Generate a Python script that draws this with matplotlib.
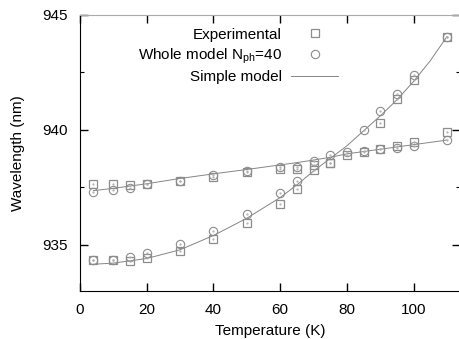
import matplotlib
matplotlib.use('Agg')
import matplotlib.pyplot as plt
from matplotlib.ticker import MultipleLocator

plt.rcParams['font.family'] = ['Liberation Sans', 'DejaVu Sans']
plt.rcParams['font.size'] = 11
plt.rcParams['mathtext.fontset'] = 'custom'
plt.rcParams['mathtext.rm'] = 'Liberation Sans'

# experimental points (squares)
t_exp_flat = [4, 10, 15, 20, 30, 40, 50, 60, 65, 70, 75, 80, 85, 90, 95, 100, 110]
exp_flat = [937.64, 937.64, 937.60, 937.65, 937.75, 937.94, 938.17, 938.27, 938.31,
            938.47, 938.55, 938.92, 939.04, 939.18, 939.30, 939.47, 939.89]
t_exp_steep = [4, 10, 15, 20, 30, 40, 50, 60, 65, 70, 75, 90, 95, 100, 110]
exp_steep = [934.33, 934.33, 934.27, 934.42, 934.72, 935.23, 935.94, 936.77, 937.42,
             938.26, 938.55, 940.31, 941.34, 942.14, 944.05]

# whole model N_ph=40 (circles)
t_whole_flat = [4, 10, 15, 20, 30, 40, 50, 60, 65, 70, 80, 85, 90, 95, 100, 110]
whole_flat = [937.27, 937.36, 937.46, 937.62, 937.78, 938.02, 938.22, 938.40, 938.40,
              938.65, 939.02, 939.08, 939.17, 939.22, 939.30, 939.55]
t_whole_steep = [4, 10, 15, 20, 30, 40, 50, 60, 65, 75, 85, 90, 95, 100, 110]
whole_steep = [934.35, 934.35, 934.45, 934.62, 935.03, 935.60, 936.33, 937.24, 937.79,
               938.88, 939.99, 940.81, 941.56, 942.36, 944.05]

# simple model curves
t_model = [4, 10, 20, 30, 40, 50, 60, 65, 70, 75, 80, 85, 90, 95, 100, 105, 110]
simple_steep = [934.15, 934.20, 934.40, 934.78, 935.40, 936.15, 937.05, 937.60, 938.20,
                938.75, 939.30, 939.95, 940.60, 941.30, 942.10, 943.00, 944.05]
simple_flat = [937.35, 937.45, 937.65, 937.88, 938.08, 938.27, 938.47, 938.57, 938.68,
               938.80, 938.95, 939.05, 939.15, 939.25, 939.35, 939.45, 939.55]

gray = '#8c8c8c'

fig = plt.figure(figsize=(4.6, 3.39), dpi=100)
ax = fig.add_axes([80 / 460, 48.3 / 339, 380 / 460, 276 / 339])

ax.plot(t_model, simple_steep, '-', color='#858585', lw=0.7, label='Simple model')
ax.plot(t_model, simple_flat, '-', color='#858585', lw=0.7)

ax.plot(t_exp_flat, exp_flat, 's', mfc='none', mec=gray, mew=0.9, ms=5.5,
        label='Experimental')
ax.plot(t_exp_steep, exp_steep, 's', mfc='none', mec=gray, mew=0.9, ms=5.5)
ax.plot(t_whole_flat, whole_flat, 'o', mfc='none', mec=gray, mew=0.8, ms=6,
        label='Whole model N$_{\\rm ph}$=40')
ax.plot(t_whole_steep, whole_steep, 'o', mfc='none', mec=gray, mew=0.8, ms=6)
# small centre dots like the original
for tx, vy in [(t_exp_flat, exp_flat), (t_exp_steep, exp_steep),
               (t_whole_flat, whole_flat), (t_whole_steep, whole_steep)]:
    ax.plot(tx, vy, '.', color='#b0b0b0', ms=1.2)

ax.set_xlim(0, 113.9)
ax.set_ylim(933, 945)
ax.xaxis.set_major_locator(MultipleLocator(20))
ax.yaxis.set_major_locator(MultipleLocator(5))
ax.yaxis.set_minor_locator(MultipleLocator(2.5))
ax.tick_params(axis='both', which='major', direction='in', length=6, width=1,
               top=True, right=True, pad=9, labelsize=11)
ax.tick_params(axis='y', which='minor', direction='in', length=3, width=0.8,
               right=True, left=True)
ax.spines['top'].set_color('#aaaaaa')
ax.spines['top'].set_linewidth(0.8)
ax.spines['right'].set_visible(False)

ax.set_xlabel('Temperature (K)', labelpad=5)
ax.set_ylabel('Wavelength (nm)', labelpad=12)

h, l = ax.get_legend_handles_labels()
order = [1, 2, 0]
ax.legend([h[i] for i in order], [l[i] for i in order], loc='upper right',
          bbox_to_anchor=(346 / 460, 1 - 20 / 339), bbox_transform=fig.transFigure,
          frameon=False, markerfirst=False, borderpad=0, handlelength=3.1,
          handletextpad=0.6, labelspacing=0.3, fontsize=11)

fig.savefig('out.png', dpi=100)
